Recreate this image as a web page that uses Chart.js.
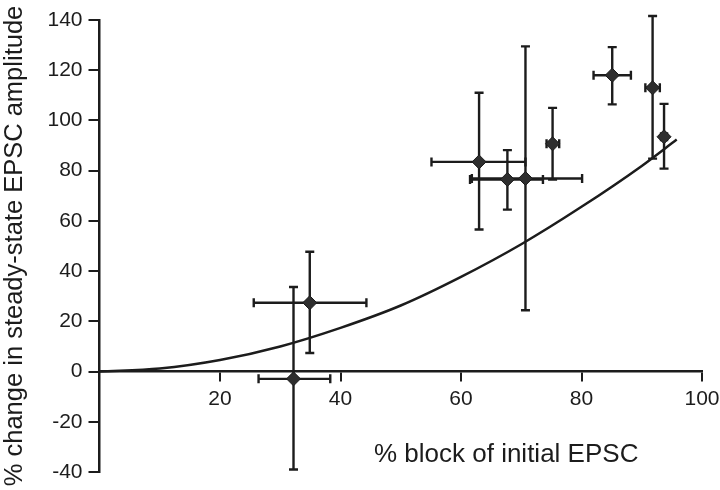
<!DOCTYPE html>
<html>
<head>
<meta charset="utf-8">
<script src="https://cdn.jsdelivr.net/npm/chart.js@4/dist/chart.umd.min.js"></script>
<style>
  html, body { margin: 0; padding: 0; background: #fff; }
  #wrap { width: 720px; height: 490px; }
</style>
</head>
<body>
<div id="wrap"><canvas id="c" width="720" height="490"></canvas></div>
<script>
// ---- data ----
const blockPct   = [32.2, 34.9, 63.0, 67.7, 70.7, 75.2, 85.1, 91.8, 93.7];
const changePct  = [-2.9, 27.4, 83.5, 76.5, 76.9, 90.7, 118.0, 113.0, 93.5];
const blockLow   = [26.4, 25.6, 55.1, 61.5, 61.8, 74.2, 82.0, 90.6, 93.2];
const blockHigh  = [38.3, 44.3, 70.7, 73.6, 80.1, 76.3, 88.2, 93.0, 94.2];
const changeLow  = [-39.0, 7.4, 56.6, 64.5, 24.4, 76.5, 106.4, 84.8, 80.8];
const changeHigh = [33.7, 47.7, 111.0, 88.2, 129.5, 105.0, 129.2, 141.6, 106.6];

const fitX = [0, 10, 20, 30, 40, 50, 60, 70, 80, 90, 95.8];
const fitY = [0, 1.2, 4.6, 10.0, 17.4, 26.3, 37.7, 50.7, 65.6, 81.9, 92.4];

const xTicks = [20, 40, 60, 80, 100];
const yTicks = [-40, -20, 0, 20, 40, 60, 80, 100, 120, 140];

const xTitle = '% block of initial EPSC';
const yTitle = '% change in steady-state EPSC amplitude';

const INK = '#1c1c1c';
const FONT = "'Liberation Sans', Arial, Helvetica, sans-serif";

const points = blockPct.map((x, i) => ({ x: x, y: changePct[i] }));
const curve = fitX.map((x, i) => ({ x: x, y: fitY[i] }));

const errorBars = {
  id: 'errorBars',
  beforeDatasetsDraw(chart) {
    const ctx = chart.ctx;
    const xs = chart.scales.x, ys = chart.scales.y;
    const cap = 4.5;
    ctx.save();
    ctx.strokeStyle = INK;
    ctx.lineWidth = 2.4;
    ctx.lineCap = 'butt';
    for (let i = 0; i < blockPct.length; i++) {
      const px = xs.getPixelForValue(blockPct[i]);
      const py = ys.getPixelForValue(changePct[i]);
      const yl = ys.getPixelForValue(changeLow[i]);
      const yh = ys.getPixelForValue(changeHigh[i]);
      const xl = xs.getPixelForValue(blockLow[i]);
      const xh = xs.getPixelForValue(blockHigh[i]);
      ctx.beginPath();
      ctx.moveTo(px, yl); ctx.lineTo(px, yh);
      ctx.moveTo(px - cap, yl); ctx.lineTo(px + cap, yl);
      ctx.moveTo(px - cap, yh); ctx.lineTo(px + cap, yh);
      ctx.moveTo(xl, py); ctx.lineTo(xh, py);
      ctx.moveTo(xl, py - cap); ctx.lineTo(xl, py + cap);
      ctx.moveTo(xh, py - cap); ctx.lineTo(xh, py + cap);
      ctx.stroke();
    }
    ctx.restore();
  }
};

// x-axis title sits lower-right of centre in the reference
const xTitlePlugin = {
  id: 'xTitlePlugin',
  afterDraw(chart) {
    const ctx = chart.ctx;
    const area = chart.chartArea;
    ctx.save();
    ctx.font = '26px ' + FONT;
    ctx.fillStyle = INK;
    ctx.textAlign = 'center';
    ctx.textBaseline = 'alphabetic';
    ctx.fillText(xTitle, area.left + (area.right - area.left) * 0.675, area.bottom - 10);
    ctx.restore();
  }
};

new Chart(document.getElementById('c'), {
  type: 'scatter',
  data: {
    datasets: [
      {
        label: 'fit',
        type: 'line',
        data: curve,
        borderColor: INK,
        borderWidth: 2.5,
        pointRadius: 0,
        fill: false,
        cubicInterpolationMode: 'monotone',
        order: 2
      },
      {
        label: 'data',
        data: points,
        pointStyle: 'rectRot',
        pointRadius: 7,
        pointBackgroundColor: '#2e2e2e',
        pointBorderColor: '#1a1a1a',
        pointBorderWidth: 1,
        order: 1
      }
    ]
  },
  options: {
    responsive: false,
    animation: false,
    layout: { padding: { left: 0, top: 20, right: 18, bottom: 18 } },
    plugins: { legend: { display: false }, tooltip: { enabled: false } },
    scales: {
      x: {
        type: 'linear',
        min: 0, max: 100,
        position: { y: 0 },
        afterBuildTicks: (s) => { s.ticks = xTicks.map(v => ({ value: v })); },
        afterFit: (s) => { s.paddingLeft = 0; s.paddingRight = 0; },
        ticks: { color: INK, font: { family: FONT, size: 21 }, padding: 6, maxRotation: 0, autoSkip: false },
        grid: { display: true, drawOnChartArea: false, drawTicks: true, tickLength: 9, color: INK, lineWidth: 2 },
        border: { display: true, color: INK, width: 2.5 },
        title: { display: false, text: xTitle }
      },
      y: {
        type: 'linear',
        min: -40, max: 140,
        position: 'left',
        afterBuildTicks: (s) => { s.ticks = yTicks.map(v => ({ value: v })); },
        afterFit: (s) => { s.width = 99.5; s.paddingTop = 0; s.paddingBottom = 0; },
        ticks: { color: INK, font: { family: FONT, size: 21 }, padding: 6, autoSkip: false },
        grid: { display: true, drawOnChartArea: false, drawTicks: true, tickLength: 11, color: INK, lineWidth: 2 },
        border: { display: true, color: INK, width: 2.5 },
        title: { display: true, text: yTitle, color: INK, font: { family: FONT, size: 25.5 }, padding: { top: 0, bottom: 0 } }
      }
    }
  },
  plugins: [errorBars, xTitlePlugin]
});
</script>
</body>
</html>
